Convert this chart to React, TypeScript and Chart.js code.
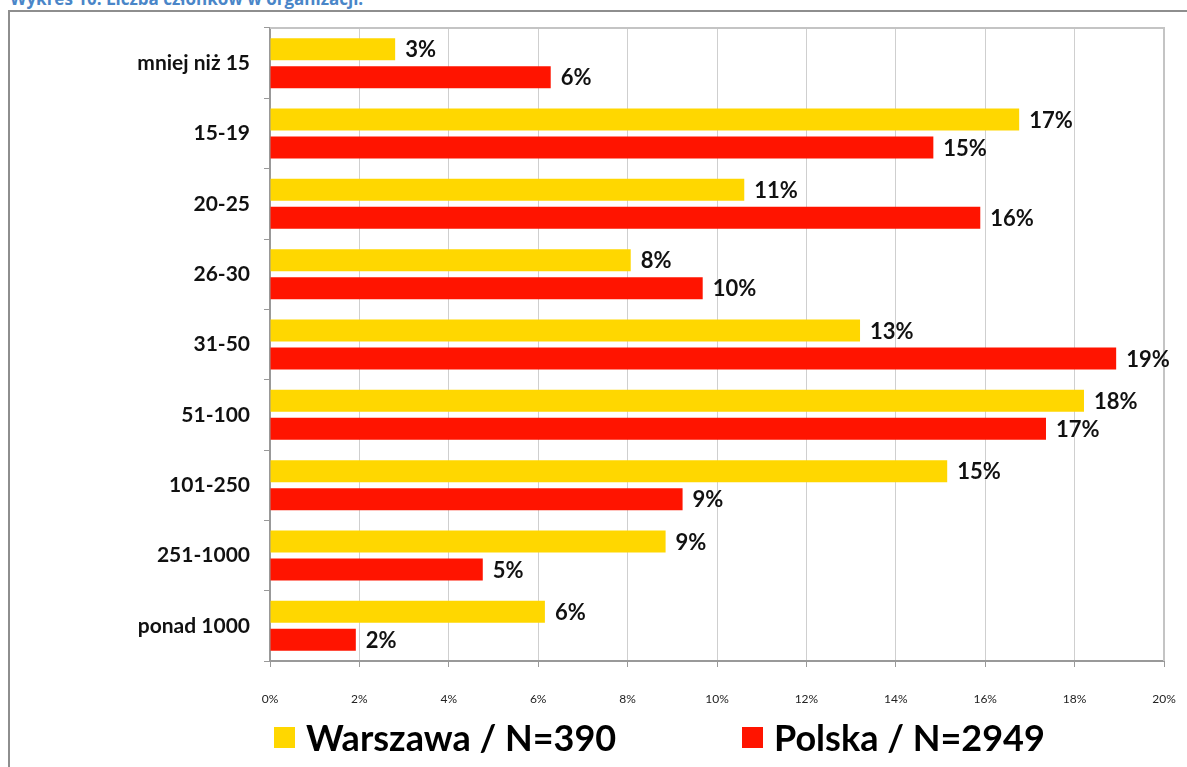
import React, { useEffect, useRef } from "react";
import { Chart, registerables } from "chart.js";

Chart.register(...registerables);

const categories = [
  "mniej niż 15",
  "15-19",
  "20-25",
  "26-30",
  "31-50",
  "51-100",
  "101-250",
  "251-1000",
  "ponad 1000",
];
const warszawa = [2.8, 16.76, 10.61, 8.07, 13.2, 18.21, 15.15, 8.85, 6.15];
const polska = [6.28, 14.84, 15.89, 9.68, 18.93, 17.36, 9.23, 4.76, 1.92];
const xTicks = [0, 2, 4, 6, 8, 10, 12, 14, 16, 18, 20];
const seriesNames = ["Warszawa / N=390", "Polska / N=2949"];
const seriesColors = ["#FFD700", "#FF1400"];

const FONT = "Lato, 'Open Sans', sans-serif";

const frameAndLabels = {
  id: "frameAndLabels",
  beforeDatasetsDraw(chart: any) {
    const { ctx, chartArea } = chart;
    ctx.save();
    ctx.strokeStyle = "#c4c4c4";
    ctx.lineWidth = 2;
    ctx.beginPath();
    ctx.moveTo(chartArea.left, chartArea.top);
    ctx.lineTo(chartArea.right, chartArea.top);
    ctx.lineTo(chartArea.right, chartArea.bottom);
    ctx.stroke();
    ctx.restore();
  },
  afterDatasetsDraw(chart: any) {
    const { ctx } = chart;
    ctx.save();
    ctx.fillStyle = "#111";
    ctx.font = `bold 22px ${FONT}`;
    ctx.textBaseline = "middle";
    ctx.textAlign = "left";
    chart.data.datasets.forEach((ds: any, di: number) => {
      const meta = chart.getDatasetMeta(di);
      meta.data.forEach((bar: any, i: number) => {
        const v = ds.data[i];
        ctx.fillText(Math.round(v) + "%", bar.x + 10, bar.y + 1);
      });
    });
    ctx.restore();
  },
};

export default function App() {
  const ref = useRef<HTMLCanvasElement>(null);
  useEffect(() => {
    const chart = new Chart(ref.current!, {
      type: "bar",
      data: {
        labels: categories,
        datasets: [
          {
            label: seriesNames[0],
            data: warszawa,
            backgroundColor: seriesColors[0],
            barPercentage: 0.786,
            categoryPercentage: 0.796,
          },
          {
            label: seriesNames[1],
            data: polska,
            backgroundColor: seriesColors[1],
            barPercentage: 0.786,
            categoryPercentage: 0.796,
          },
        ],
      },
      options: {
        indexAxis: "y",
        responsive: false,
        animation: false,
        layout: { padding: { top: 28, right: 23, left: 0, bottom: 0 } },
        plugins: {
          legend: { display: false },
          tooltip: { enabled: false },
        },
        scales: {
          x: {
            min: 0,
            max: 20,
            afterBuildTicks(scale: any) {
              scale.ticks = xTicks.map((v) => ({ value: v }));
            },
            afterFit(scale: any) {
              scale.height = 106;
              scale.paddingLeft = 0;
              scale.paddingRight = 0;
            },
            grid: {
              color: "#cfcfcf",
              lineWidth: 1,
              tickLength: 6,
              tickColor: "#999",
            },
            border: { color: "#999", width: 2 },
            ticks: {
              padding: 25,
              color: "#222",
              font: { family: FONT, size: 12 },
              callback: (v: any) => v + "%",
            },
          },
          y: {
            afterFit(scale: any) {
              scale.width = 270;
              scale.paddingTop = 0;
              scale.paddingBottom = 0;
            },
            grid: {
              offset: true,
              drawOnChartArea: false,
              tickLength: 6,
              tickColor: "#999",
            },
            border: { color: "#999", width: 2 },
            ticks: {
              padding: 14,
              color: "#111",
              font: { family: FONT, size: 21, weight: "bold" },
            },
          },
        },
      },
      plugins: [frameAndLabels],
    });
    return () => chart.destroy();
  }, []);

  const legendItem = (i: number, left: number) => (
    <div
      style={{
        position: "absolute",
        left,
        top: 712,
        display: "flex",
        alignItems: "center",
        height: 50,
      }}
    >
      <div style={{ width: 21, height: 21, background: seriesColors[i], marginRight: 11 }} />
      <span style={{ fontFamily: FONT, fontWeight: "bold", fontSize: 36, color: "#000" }}>
        {seriesNames[i]}
      </span>
    </div>
  );

  return (
    <div style={{ position: "absolute", left: 0, top: 0, width: 1187, height: 767, overflow: "hidden", background: "#fff" }}>
      <div
        style={{
          position: "absolute",
          left: 10,
          top: -13,
          fontFamily: "'Open Sans', sans-serif",
          fontWeight: "bold",
          fontSize: 17,
          color: "#4a86c8",
          whiteSpace: "nowrap",
        }}
      >
        Wykres 10. Liczba członków w organizacji.
      </div>
      <div
        style={{
          position: "absolute",
          left: 8,
          top: 10,
          width: 1300,
          height: 900,
          border: "2px solid #8e8e8e",
          boxSizing: "border-box",
        }}
      />
      <canvas ref={ref} width={1187} height={767} style={{ position: "absolute", left: 0, top: 0 }} />
      {legendItem(0, 274)}
      {legendItem(1, 742)}
    </div>
  );
}
